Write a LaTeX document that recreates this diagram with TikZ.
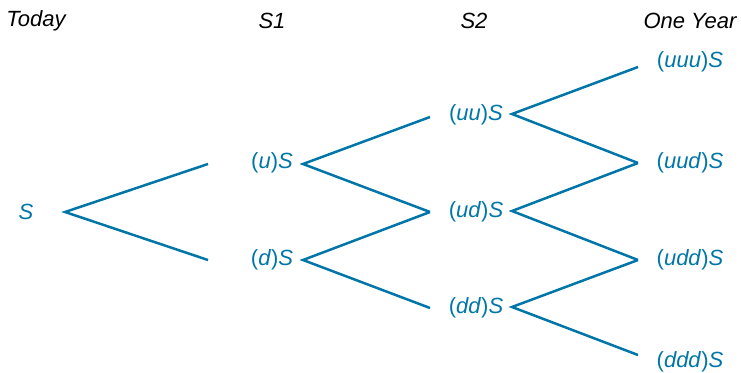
\documentclass[tikz,border=0pt]{standalone}
\usepackage{fontspec}
\setmainfont{Liberation Sans}
\definecolor{tb}{RGB}{0,118,168}
\begin{document}
\begin{tikzpicture}[x=1pt,y=-1pt,
  lbl/.style={text=tb, font=\fontsize{22}{26}\selectfont, inner sep=0pt},
  hdr/.style={text=black, font=\fontsize{22}{26}\selectfont\itshape, inner sep=0pt},
  br/.style={draw=tb, line width=2.5pt, line join=miter}]
\useasboundingbox (0,0) rectangle (741,372);
% headers
\node[hdr] (h0) at (36,21) {Today};
\node[hdr] (h1) at (272,21) {S1};
\node[hdr] (h2) at (474,21) {S2};
\node[hdr] (h3) at (690,21) {One Year};
% labels
\node[lbl] (n0) at (26,212) {\textit{S}};
\node[lbl] (n1u) at (272,163) {(\textit{u})\textit{S}};
\node[lbl] (n1d) at (272,260) {(\textit{d})\textit{S}};
\node[lbl] (n2uu) at (476,115) {(\textit{uu})\textit{S}};
\node[lbl] (n2ud) at (476,212) {(\textit{ud})\textit{S}};
\node[lbl] (n2dd) at (476,308) {(\textit{dd})\textit{S}};
\node[lbl] (n3uuu) at (690,62) {(\textit{uuu})\textit{S}};
\node[lbl] (n3uud) at (690,163) {(\textit{uud})\textit{S}};
\node[lbl] (n3udd) at (690,260) {(\textit{udd})\textit{S}};
\node[lbl] (n3ddd) at (690,362) {(\textit{ddd})\textit{S}};
% junction points
\coordinate (a0) at (65,212);
\coordinate (e1u) at (208,164);
\coordinate (e1d) at (208,260);
\coordinate (a1u) at (303,164);
\coordinate (a1d) at (303,260);
\coordinate (e2uu) at (430,117);
\coordinate (e2ud) at (430,212);
\coordinate (e2dd) at (430,308);
\coordinate (a2uu) at (512,114);
\coordinate (a2ud) at (512,211);
\coordinate (a2dd) at (512,307);
\coordinate (e3uuu) at (638,67);
\coordinate (e3uud) at (638,163);
\coordinate (e3udd) at (638,260);
\coordinate (e3ddd) at (638,355);
% branches
\draw[br] (e1u) -- (a0) -- (e1d);
\draw[br] (e2uu) -- (a1u) -- (e2ud);
\draw[br] (e2ud) -- (a1d) -- (e2dd);
\draw[br] (e3uuu) -- (a2uu) -- (e3uud);
\draw[br] (e3uud) -- (a2ud) -- (e3udd);
\draw[br] (e3udd) -- (a2dd) -- (e3ddd);
\end{tikzpicture}
\end{document}
